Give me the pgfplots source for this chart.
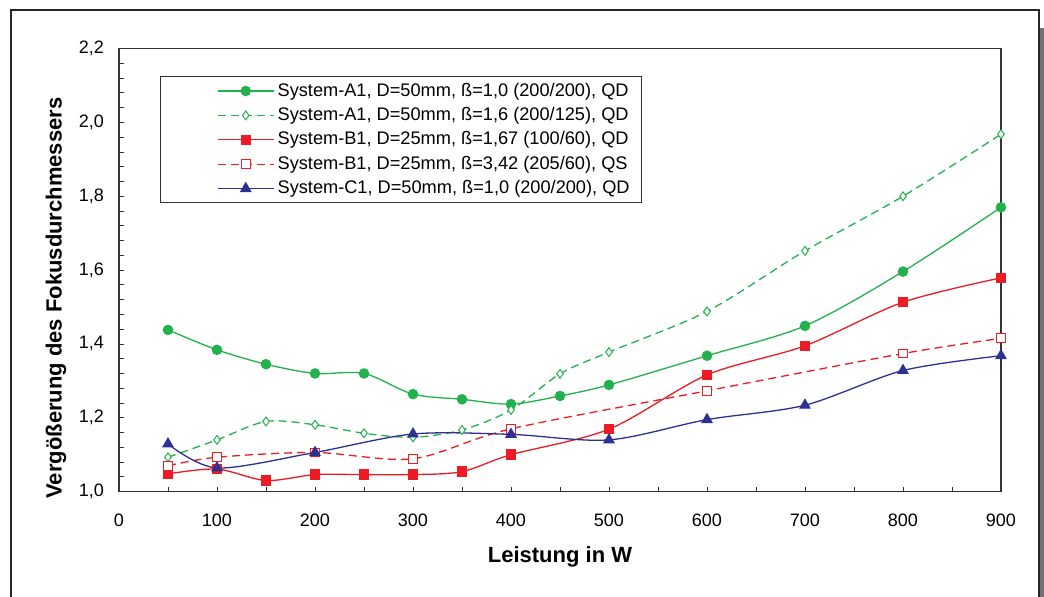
\documentclass[border=0pt]{standalone}
\usepackage{fontspec}
\setmainfont{Liberation Sans}
\usepackage{pgfplots}
\pgfplotsset{compat=1.18}

\definecolor{cA}{RGB}{34,177,76}
\definecolor{cB}{RGB}{237,28,36}
\definecolor{cC}{RGB}{46,49,146}

\begin{document}
\begin{tikzpicture}
% pixel grid of the reference: 1px = 0.5pt, origin at top left of the picture
\begin{scope}[shift={(-59.5pt,245.8pt)},x=0.5pt,y=-0.5pt]
    \fill[white] (0,0) rectangle (1044,597);
    \useasboundingbox (0,0) rectangle (1044,597);
    \draw[black!85,line width=0.6pt] (11,597) -- (11,10) -- (1039,10) -- (1039,597);
    \fill[black!55] (1040,28) rectangle (1044,597);
    \draw[black!80,line width=0.5pt] (160,76.7) rectangle (641.7,202.7);
\end{scope}
\begin{axis}[
    scale only axis,
    width=441pt,height=221.5pt,
    xmin=0,xmax=900,ymin=1,ymax=2.2,
    clip=false,
    axis line style={black!80,line width=0.6pt},
    tick pos=left,
    tick align=inside,
    major tick length=2.5pt,minor tick length=2.5pt,
    tick style={black!80,line width=0.4pt},
    xtick={0,100,200,300,400,500,600,700,800,900},
    minor x tick num=1,
    ytick={1.0,1.2,1.4,1.6,1.8,2.0,2.2},
    minor y tick num=4,
    /pgf/number format/assume math mode=true,
    ticklabel style={font=\fontsize{9}{10}\selectfont},
    xticklabel style={yshift=-7.6pt},
    yticklabel style={xshift=-4pt,/pgf/number format/.cd,fixed,fixed zerofill,precision=1,use comma},
    xlabel={Leistung in W},
    ylabel={Vergößerung des Fokusdurchmessers},
    label style={font=\fontsize{11}{12}\selectfont\bfseries},
    xlabel style={at={(axis description cs:0.5,-0.147)},anchor=center},
    ylabel style={at={(axis description cs:-0.0714,0.437)},anchor=center},
    legend cell align=left,
    legend image code/.code={\draw[mark repeat=2,mark phase=2,#1] plot coordinates {(0pt,0pt) (14pt,0pt) (28pt,0pt)};},
    legend style={at={(axis description cs:0.1108,0.9327)},anchor=north west,
        draw=none,fill=none,inner sep=0pt,row sep=0pt,
        font=\fontsize{9.1}{10}\selectfont,
        nodes={text height=7pt,text depth=2pt,inner sep=1.6pt}},
    every axis plot/.append style={line width=0.65pt,smooth,tension=0.5},
]
\addplot[cA,mark=*,mark size=2.3pt,mark options={solid}] coordinates {
(50,1.438)(100,1.384)(150,1.345)(200,1.32)(250,1.32)(300,1.264)(350,1.25)
(400,1.237)(450,1.259)(500,1.289)(600,1.368)(700,1.449)(800,1.596)(900,1.77)};
\addlegendentry{System-A1, D=50mm, ß=1,0 (200/200), QD}
\addplot[cA,dash pattern=on 4pt off 2.5pt,mark=diamond*,mark size=2.2pt,mark options={solid,fill=white,line width=0.5pt}] coordinates {
(50,1.093)(100,1.140)(150,1.19)(200,1.181)(250,1.158)(300,1.147)(350,1.167)
(400,1.221)(450,1.319)(500,1.378)(600,1.488)(700,1.652)(800,1.80)(900,1.968)};
\addlegendentry{System-A1, D=50mm, ß=1,6 (200/125), QD}
\addplot[cB,mark=square*,mark size=2.3pt,mark options={solid}] coordinates {
(50,1.048)(100,1.061)(150,1.030)(200,1.046)(250,1.046)(300,1.046)(350,1.054)
(400,1.10)(500,1.169)(600,1.316)(700,1.395)(800,1.513)(900,1.579)};
\addlegendentry{System-B1, D=25mm, ß=1,67 (100/60), QD}
\addplot[cB,dash pattern=on 4pt off 2.5pt,mark=square*,mark size=2.2pt,mark options={solid,fill=white,line width=0.5pt}] coordinates {
(50,1.070)(100,1.093)(200,1.106)(300,1.089)(400,1.17)(600,1.273)(800,1.374)(900,1.415)};
\addlegendentry{System-B1, D=25mm, ß=3,42 (205/60), QS}
\addplot[cC,mark=triangle*,mark size=2.8pt,mark options={solid}] coordinates {
(50,1.129)(100,1.064)(200,1.106)(300,1.156)(400,1.155)(500,1.140)(600,1.195)
(700,1.234)(800,1.328)(900,1.368)};
\addlegendentry{System-C1, D=50mm, ß=1,0 (200/200), QD}
\end{axis}
\end{tikzpicture}
\end{document}
